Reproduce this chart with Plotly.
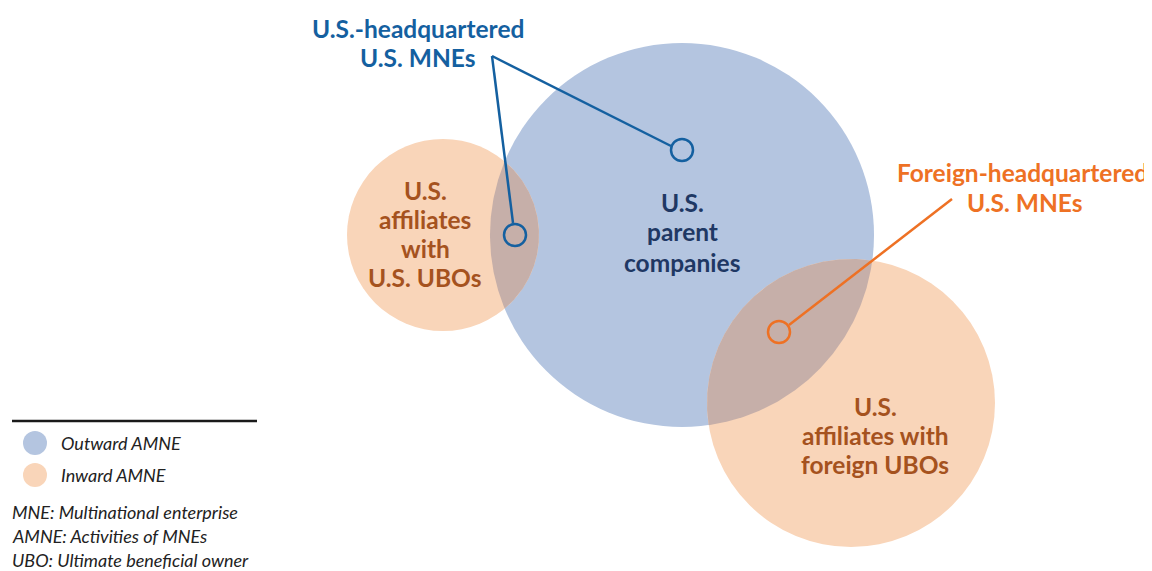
import numpy as np
import plotly.graph_objects as go

# circles: name, centre x, centre y, radius (pixel units on a 1152x571 canvas)
circle_names = ["U.S. parent companies", "U.S. affiliates with U.S. UBOs", "U.S. affiliates with foreign UBOs"]
circle_x = [682, 443, 851]
circle_y = [235, 235, 403]
circle_r = [192, 96, 144]
circle_group = ["outward", "inward", "inward"]

# small marker rings at the overlaps
ring_x = [682, 515, 779]
ring_y = [150, 235, 332]
ring_group = ["us", "us", "foreign"]

# leader lines: label anchor -> ring
leader_x0 = [492, 492, 952]
leader_y0 = [56, 56, 199]
leader_x1 = [671, 513, 789]
leader_y1 = [146, 223, 325]
leader_group = ["us", "us", "foreign"]

# text labels, one entry per line
label_lines = [
    ("U.S.-headquartered", 418, 28, "us", "center"), ("U.S. MNEs", 418, 57, "us", "center"),
    ("Foreign-headquartered", 1150, 172, "foreign", "right"), ("U.S. MNEs", 1025, 202, "foreign", "center"),
    ("U.S.", 682, 202, "navy", "center"), ("parent", 682, 231, "navy", "center"), ("companies", 682, 262, "navy", "center"),
    ("U.S.", 425, 190, "brown", "center"), ("affiliates", 425, 219, "brown", "center"),
    ("with", 425, 248, "brown", "center"), ("U.S. UBOs", 425, 277, "brown", "center"),
    ("U.S.", 875, 406, "brown", "center"), ("affiliates with", 875, 435, "brown", "center"),
    ("foreign UBOs", 875, 464, "brown", "center"),
]
legend_names = ["Outward AMNE", "Inward AMNE"]
notes = ["MNE: Multinational enterprise", "AMNE: Activities of MNEs", "UBO: Ultimate beneficial owner"]

BLUE_FILL = "#B4C5E0"
PEACH_FILL = "#F9D5B9"
OVERLAP_FILL = "#C6AFA9"
FONT = "Lato"

fill_of = {"outward": BLUE_FILL, "inward": PEACH_FILL}
color_of = {"us": "#1460A0", "foreign": "#EE7124", "navy": "#1F3864", "brown": "#A5521E"}

OFF = 8  # page body margin, so data units line up with screen pixels


def lens(i, j, n=200):
    # overlap of circle i and j as a polygon sorted around its centroid
    pts = []
    for a, b in [(i, j), (j, i)]:
        t = np.linspace(0, 2 * np.pi, n * 4)
        px = circle_x[a] + circle_r[a] * np.cos(t)
        py = circle_y[a] + circle_r[a] * np.sin(t)
        inside = (px - circle_x[b]) ** 2 + (py - circle_y[b]) ** 2 <= circle_r[b] ** 2
        pts += list(zip(px[inside], py[inside]))
    pts = np.array(pts)
    cx, cy = pts[:, 0].mean(), pts[:, 1].mean()
    order = np.argsort(np.arctan2(pts[:, 1] - cy, pts[:, 0] - cx))
    pts = pts[order]
    return np.append(pts[:, 0], pts[0, 0]), np.append(pts[:, 1], pts[0, 1])


fig = go.Figure()

shapes = []
for cx, cy, r, g in zip(circle_x, circle_y, circle_r, circle_group):
    shapes.append(dict(type="circle", xref="x", yref="y", x0=cx - r, x1=cx + r, y0=cy - r, y1=cy + r,
                       fillcolor=fill_of[g], line=dict(width=0), layer="below"))

for j in [1, 2]:
    lx, ly = lens(0, j)
    fig.add_trace(go.Scatter(x=lx, y=ly, mode="lines", fill="toself", fillcolor=OVERLAP_FILL,
                             line=dict(width=0), hoverinfo="skip", showlegend=False))

for x0, y0, x1, y1, g in zip(leader_x0, leader_y0, leader_x1, leader_y1, leader_group):
    shapes.append(dict(type="line", xref="x", yref="y", x0=x0, y0=y0, x1=x1, y1=y1,
                       line=dict(color=color_of[g], width=2.5)))
for rx, ry, g in zip(ring_x, ring_y, ring_group):
    shapes.append(dict(type="circle", xref="x", yref="y", x0=rx - 11, x1=rx + 11, y0=ry - 11, y1=ry + 11,
                       line=dict(color=color_of[g], width=2.5)))

# legend block
shapes.append(dict(type="line", xref="x", yref="y", x0=12, x1=257, y0=421, y1=421, line=dict(color="#1a1a1a", width=2.5)))
for k, col in enumerate([BLUE_FILL, PEACH_FILL]):
    cy = 443 + 32 * k
    shapes.append(dict(type="circle", xref="x", yref="y", x0=23, x1=47, y0=cy - 12, y1=cy + 12, fillcolor=col, line=dict(width=0)))

annotations = []
for txt, x, y, g, anc in label_lines:
    annotations.append(dict(x=x, y=y, text=f"<b>{txt}</b>", xanchor=anc, font=dict(color=color_of[g], size=24.5)))
for k, name in enumerate(legend_names):
    annotations.append(dict(x=59, y=443 + 32 * k, text=f"<i>{name}</i>", xanchor="left", font=dict(color="#222", size=18)))
for k, note in enumerate(notes):
    annotations.append(dict(x=10, y=512 + 24 * k, text=f"<i>{note}</i>", xanchor="left", font=dict(color="#222", size=18)))
for a in annotations:
    a.update(xref="x", yref="y", showarrow=False, yanchor="middle")
    a["font"]["family"] = FONT

fig.update_layout(
    width=1152, height=571,
    margin=dict(l=0, r=0, t=0, b=0),
    paper_bgcolor="white", plot_bgcolor="white",
    xaxis=dict(range=[OFF, 1152 + OFF], visible=False, fixedrange=True),
    yaxis=dict(range=[571 + OFF, OFF], visible=False, fixedrange=True),
    shapes=shapes, annotations=annotations, showlegend=False,
)

fig.write_html("out.html")
